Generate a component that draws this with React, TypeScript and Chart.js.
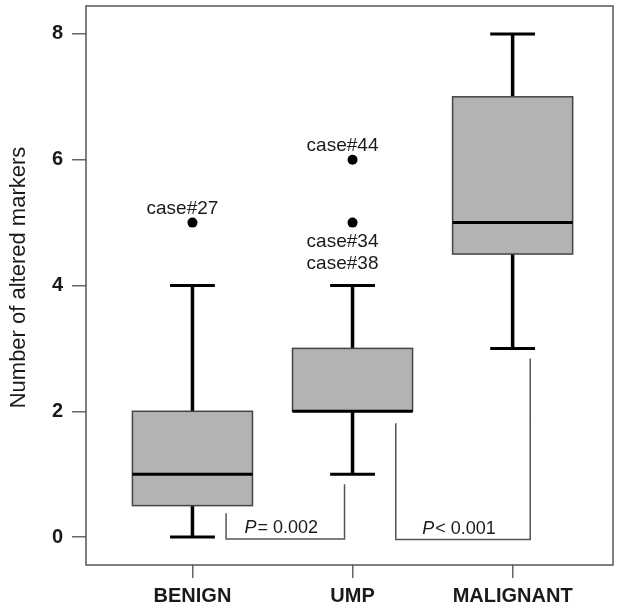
import React, { useEffect, useRef } from "react";
import { Chart, registerables } from "chart.js";

Chart.register(...registerables);

const categories = ["BENIGN", "UMP", "MALIGNANT"];
const whiskerLow = [0, 1, 3];
const q1 = [0.5, 2, 4.5];
const median = [1, 2, 5];
const q3 = [2, 3, 7];
const whiskerHigh = [4, 4, 8];

const outlierCategory = [1, 2, 2];
const outlierValues = [5, 6, 5];

const yTicks = [0, 2, 4, 6, 8];

// case labels: category, value, text lines
const caseLabelCategory = [1, 2, 2];
const caseLabelValue = [5, 6, 5];
const caseLabelText = [["case#27"], ["case#44"], ["case#34", "case#38"]];
const caseLabelAbove = [true, true, false];

// significance brackets
const bracketFrom = [1.21, 2.27];
const bracketTo = [1.95, 3.11];
const bracketLeftTop = [0.38, 1.81];
const bracketRightTop = [0.84, 2.84];
const bracketBase = [-0.03, -0.04];
const bracketSymbol = ["=", "<"];
const bracketValue = ["0.002", "0.001"];

const FONT = "'Liberation Sans', Arial, Helvetica, sans-serif";

const boxPlugin = {
  id: "boxPlugin",
  afterDatasetsDraw(chart: any) {
    const { ctx, chartArea, scales } = chart;
    const xs = scales.x;
    const ys = scales.y;
    ctx.save();

    // boxes
    for (let i = 0; i < categories.length; i++) {
      const c = i + 1;
      const xc = xs.getPixelForValue(c);
      const xl = xs.getPixelForValue(c - 0.375);
      const xr = xs.getPixelForValue(c + 0.375);
      const capL = xs.getPixelForValue(c - 0.14);
      const capR = xs.getPixelForValue(c + 0.14);
      const yq1 = ys.getPixelForValue(q1[i]);
      const yq3 = ys.getPixelForValue(q3[i]);
      const ymed = ys.getPixelForValue(median[i]);
      const ylo = ys.getPixelForValue(whiskerLow[i]);
      const yhi = ys.getPixelForValue(whiskerHigh[i]);

      // whiskers
      ctx.strokeStyle = "#000";
      ctx.lineWidth = 3.5;
      ctx.lineCap = "butt";
      ctx.beginPath();
      ctx.moveTo(xc, yq3);
      ctx.lineTo(xc, yhi);
      ctx.moveTo(xc, yq1);
      ctx.lineTo(xc, ylo);
      ctx.stroke();
      ctx.lineWidth = 3;
      ctx.beginPath();
      ctx.moveTo(capL, yhi);
      ctx.lineTo(capR, yhi);
      ctx.moveTo(capL, ylo);
      ctx.lineTo(capR, ylo);
      ctx.stroke();

      // box
      ctx.fillStyle = "#b3b3b3";
      ctx.fillRect(xl, yq3, xr - xl, yq1 - yq3);
      ctx.strokeStyle = "#444";
      ctx.lineWidth = 1.5;
      ctx.strokeRect(xl, yq3, xr - xl, yq1 - yq3);

      // median
      ctx.strokeStyle = "#000";
      ctx.lineWidth = 3;
      ctx.beginPath();
      ctx.moveTo(xl, ymed);
      ctx.lineTo(xr, ymed);
      ctx.stroke();
    }

    // case labels
    ctx.fillStyle = "#1a1a1a";
    ctx.font = `19px ${FONT}`;
    ctx.textAlign = "center";
    ctx.textBaseline = "middle";
    for (let i = 0; i < caseLabelText.length; i++) {
      const x = xs.getPixelForValue(caseLabelCategory[i]) - 10;
      const y = ys.getPixelForValue(caseLabelValue[i]);
      const lines = caseLabelText[i];
      lines.forEach((t, j) => {
        const yy = caseLabelAbove[i] ? y - 14 - (lines.length - 1 - j) * 22 : y + 19 + j * 22;
        ctx.fillText(t, x, yy);
      });
    }

    // brackets
    ctx.strokeStyle = "#555";
    ctx.lineWidth = 1.5;
    for (let i = 0; i < bracketFrom.length; i++) {
      const x1 = xs.getPixelForValue(bracketFrom[i]);
      const x2 = xs.getPixelForValue(bracketTo[i]);
      const yb = ys.getPixelForValue(bracketBase[i]);
      const yl = ys.getPixelForValue(bracketLeftTop[i]);
      const yr = ys.getPixelForValue(bracketRightTop[i]);
      ctx.beginPath();
      ctx.moveTo(x1, yl);
      ctx.lineTo(x1, yb);
      ctx.lineTo(x2, yb);
      ctx.lineTo(x2, yr);
      ctx.stroke();

      // label "P = 0.002"
      const cx = (x1 + x2) / 2 - 4;
      const ty = yb - 11;
      ctx.fillStyle = "#1a1a1a";
      ctx.textBaseline = "middle";
      ctx.font = `italic 18px ${FONT}`;
      const pW = ctx.measureText("P").width;
      ctx.font = `18px ${FONT}`;
      const rest = bracketSymbol[i] + " " + bracketValue[i];
      const rW = ctx.measureText(rest).width;
      const total = pW + 1 + rW;
      const sx = cx - total / 2;
      ctx.textAlign = "left";
      ctx.font = `italic 18px ${FONT}`;
      ctx.fillText("P", sx, ty);
      ctx.font = `18px ${FONT}`;
      ctx.fillText(rest, sx + pW + 1, ty);
    }

    // frame
    ctx.strokeStyle = "#555";
    ctx.lineWidth = 1.5;
    ctx.strokeRect(chartArea.left, chartArea.top, chartArea.right - chartArea.left, chartArea.bottom - chartArea.top);

    // y-axis title
    ctx.save();
    ctx.translate(19, (chartArea.top + chartArea.bottom) / 2 - 8);
    ctx.rotate(-Math.PI / 2);
    ctx.fillStyle = "#1a1a1a";
    ctx.font = `22px ${FONT}`;
    ctx.textAlign = "center";
    ctx.textBaseline = "middle";
    ctx.fillText("Number of altered markers", 0, 0);
    ctx.restore();

    ctx.restore();
  },
};

export default function App() {
  const ref = useRef<HTMLCanvasElement | null>(null);

  useEffect(() => {
    document.body.style.margin = "0";
    if (!ref.current) return;
    const chart = new Chart(ref.current, {
      type: "scatter",
      data: {
        datasets: [
          {
            data: outlierCategory.map((c, i) => ({ x: c, y: outlierValues[i] })),
            pointRadius: 5,
            pointBackgroundColor: "#000",
            pointBorderColor: "#000",
            pointBorderWidth: 0,
            showLine: false,
          },
        ],
      },
      options: {
        responsive: false,
        animation: false,
        events: [],
        layout: { padding: { top: 6, right: 2, left: 0, bottom: 0 } },
        plugins: { legend: { display: false }, tooltip: { enabled: false }, title: { display: false } },
        scales: {
          x: {
            type: "linear",
            min: 0.335,
            max: 3.627,
            afterBuildTicks: (s: any) => {
              s.ticks = [1, 2, 3].map((v) => ({ value: v }));
            },
            afterFit: (s: any) => {
              s.height = 46;
              s.paddingLeft = 0;
              s.paddingRight = 0;
              s.paddingTop = 0;
              s.paddingBottom = 0;
            },
            ticks: {
              callback: (v: any) => categories[Number(v) - 1] ?? "",
              font: { family: FONT, size: 20, weight: "bold" },
              color: "#1a1a1a",
              padding: 6,
              maxRotation: 0,
              autoSkip: false,
            },
            grid: { drawOnChartArea: false, drawTicks: true, tickLength: 13, color: "#666", lineWidth: 1.5 },
            border: { display: false },
          },
          y: {
            type: "linear",
            min: -0.444,
            max: 8.444,
            afterBuildTicks: (s: any) => {
              s.ticks = yTicks.map((v) => ({ value: v }));
            },
            afterFit: (s: any) => {
              s.width = 86;
              s.paddingLeft = 0;
              s.paddingRight = 0;
              s.paddingTop = 0;
              s.paddingBottom = 0;
            },
            ticks: {
              font: { family: FONT, size: 20, weight: "bold" },
              color: "#1a1a1a",
              padding: 9,
              autoSkip: false,
            },
            grid: { drawOnChartArea: false, drawTicks: true, tickLength: 14, color: "#666", lineWidth: 1.5 },
            border: { display: false },
          },
        },
      },
      plugins: [boxPlugin],
    });
    return () => chart.destroy();
  }, []);

  return (
    <div style={{ width: 618, height: 611 }}>
      <canvas ref={ref} width={618} height={611} style={{ display: "block" }} />
    </div>
  );
}
